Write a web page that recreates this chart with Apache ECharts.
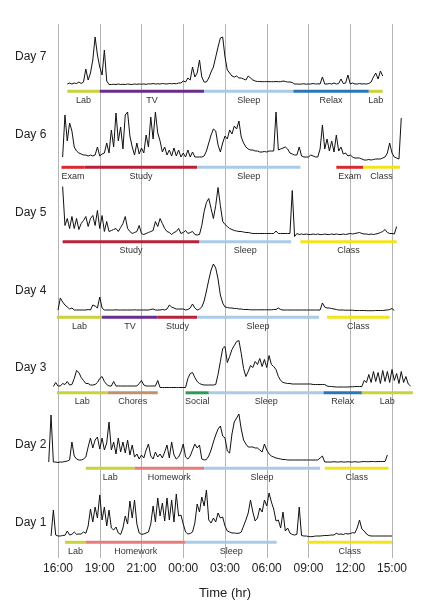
<!DOCTYPE html>
<html><head><meta charset="utf-8">
<script src="https://cdn.jsdelivr.net/npm/echarts@6/dist/echarts.min.js"></script>
<style>html,body{margin:0;padding:0;background:#fff}#c{width:434px;height:614px}</style>
</head><body><div id="c"></div>
<script>
// ---------------- DATA ----------------
const timeLabels = ['16:00','19:00','21:00','00:00','03:00','06:00','09:00','12:00','15:00'];
const SAMPLE_MIN = 10; // minutes between samples
const dayNames = ['Day 7','Day 6','Day 5','Day 4','Day 3','Day 2','Day 1'];

const day7Start = 40;
const day7Values = [1,2,1,2,1.5,3,1.5,3,16,5,
 12,25,48,30,18,10,35,4,0.5,0.5,
 0.7,0.5,1,0.5,0.7,0.5,1,0.7,0.5,1,
 0.7,1,0.8,1,0.7,1.2,1,1.5,1,1.2,
 1,1.5,1.2,1,1.5,1.2,1.5,1.2,2,
 2,4,3,7,5,18,8,12,25,8,
 3,3,7,13,18,28,38,47,48,28,
 15,12,9,8,9,7,7,6,5,9,
 7,5,4,3.5,3.5,3.3,3.3,3.5,3.3,3.3,
 3.3,3.5,3.3,3.3,4,3.5,3,3,2.5,1,
 1,0.8,1,1.2,0.8,1,1,1.5,1,1.2,
 1,8,1,1,1.5,1,2,1,1.5,6,
 1.5,2,10,1,2,1,1,1.5,1,1.2,
 1,1.5,3,8,12,6,14,9];

const day6Start = 20;
const day6Values = [4,46,20,38,30,14,10,8,7,6,
 6,5,6,5,6,14,5,7,8,
 18,8,31,14,48,20,34,12,46,49,
 25,14,6,18,7,13,8,26,14,44,
 22,49,28,20,9,14,6,11,5,13,
 5,11,4,8,4,11,4,9,4,4,
 4,4,5,10,18,26,32,30,16,9,
 18,25,22,31,27,35,32,40,24,18,
 14,12,11,11,10,10,9,9,9.5,9,
 10,10,10,49,11,12,13,14,12,8,
 7,6,6,14,5,4,4,4,6,5,
 4,4,12,36,12,22,10,20,9,26,
 10,14,7,8,5,6,4,3,3,3,
 2,1,1,1.5,1,1.5,2,2,2,3,
 4,8,18,8,4,3,2,43];

const day5Start = 20;
const day5Values = [49,10,17,7,19,7,17,6,12,15,
 19,9,17,20,10,25,7,20,4,14,
 4,5,6,7,4,8,12,19,7,4,
 2,3,4,10,2,1,2,3,4,5,
 14,9,17,12,7,4,3,1,3,4,
 7,2,3,5,2,3,4,1,0.5,1,
 10,24,33,37,27,17,30,48,30,14,
 11,9,7,6,5,4.5,4,4,3.5,3,
 3,2.5,2,2,2,2,2,2,2,2,
 2,2,4.5,2,2,2,2,2,2,45,
 -1,2,1,1.5,1,1.5,1,1,1.5,1,
 1.5,1,1,1.5,1,1,1.5,1,1.5,1,
 1,1.5,1,1.5,2,1.5,2,2.5,3,2,
 1.5,1.5,1,1.5,1,1.5,2,3,4,6,
 3,2,2,1.5,9];

const day4Start = 0;
const day4Values = [1,13,9,6,4,2,3,1,1,1,
 1,1,1,1.5,1,6,5,3,14,3,
 1,1,1,1,1,1.2,1,1,1,1,
 1,1,1,1.2,1,1,1,1,1,1,
 1.5,2,1,1,1,1.5,1,2,6,4,
 3,2,2,2,2,1,1.5,3,7,3,
 1,2,4,10,20,31,41,47,43,32,
 16,8,4,3.5,3,3,2.5,2.5,2,2,
 1.5,1.5,1.5,1.2,1.2,1.2,1.2,1.2,1.2,1.2,
 1.2,1.2,1.2,1.5,1.5,3,1.5,1,1,1,
 1,1,1,1,1,1,1,1,1,1,
 1,1,1,1,8,4,3,3,2.5,2,
 1.5,1,1,1,0.8,0.8,0.8,0.8,0.5,0.5,
 0.5,0.5,0.5,0.3,0.3,0.3,0.3,0.5,0.5,0.5,
 0.5,0.8,1,1.5,2.5,0.5];

const day3Start = -20;
const day3Values = [0,4,0.5,0.5,3,2,5,1.5,2,8,
 16,14,9,6,3,3,1.5,1.5,2,4,
 8,10,5,2,0.5,0.5,5,0.5,0.5,0.5,
 0.5,0.5,0.5,0.5,0.5,0.5,0.5,3,6,1.5,
 0.5,0.5,0.5,0.5,0.5,6,-1,-1,-1,-1,
 -1,-1,-1,-1,-1,-1,-1,-1,8,13,
 14,9,5,3,2,1.5,1.5,1.5,1.5,1.5,
 2,12,25,38,40,24,30,37,41,45,
 46,33,18,10,15,21,19,25,22,28,
 20,27,19,31,22,20,17,10,6,4,
 3.5,3,3,2.5,2.5,2.5,2.5,2.5,2.5,2.5,
 2.5,2.5,2,2,2,2,2,2,0.5,0,
 0,-0.3,-0.5,-0.5,-0.5,-0.5,-0.5,-0.5,-0.3,-0.3,
 0,0,0,0,6,4,12,4,15,5,
 14,3,16,5,15,4,17,6,13,3,
 15,4,10,2.5,0.5];

const day2Start = -40;
const day2Values = [0,47,0,0,-0.5,0,0,0.5,1,2,
 20,6,3,2,2,3,5,15,24,14,
 22,25,13,24,12,19,40,12,20,8,
 24,10,20,9,22,7,17,5,8,3,
 7,4,12,18,6,3,10,5,8,4,
 10,17,4,20,7,3,5,10,18,5,
 3,6,12,18,14,17,3,2,2.5,6,
 12,20,27,33,36,26,24,11,9,28,
 40,44,48,33,22,18,15,15,15,14,
 14,12,10,18,12,8,6,5,4,3.5,
 3,2.5,2.5,2,2,2,2,2,2,2,
 2,2,2,2,2,2,2,4,6,0,
 0,0,0,0.3,0,0,0.3,0,0,0.3,
 0,0,0.3,0,0,0.3,0.5,0.3,0.3,0.5,
 0.5,0.3,0.5,0.5,0.5,0.5,7];

const day1Start = -30;
const day1Values = [0,26,1,0,0,0.5,0.7,5,1,1.7,
 4,1.7,2,2,4,2.7,10,
 27,14,29,18,41,16,29,10,26,8,6,9,3,
 1.5,8,20,12,35,18,36,12,3,1.7,
 2,3,4,12,30,14,38,20,33,15,
 38,16,36,14,42,20,21,12,4,2,
 2.5,4,13,32,24,39,30,46,16,
 13,18,14,23,18,19,10,5,4,3,3,
 2.7,2.7,4,10,16,23,36,24,15,
 18,28,24,36,30,43,34,27,15,16,8,
 24,5,8,3,1.5,1,1.7,29,0.5,0,
 0,-0.5,-0.7,-0.5,0,0,0,0.3,0.5,0.5,
 0.7,1,1,2.7,1.7,2,1.5,2.5,2,2.5,
 3.3,3,8,16,7,5,2,0.5,0,0,
 0,0,0,0,0,0,0,0];

// activities: [label, start minute, end minute] (minutes after 16:00 gridline, 180 per gridline)
const day7Activities = [['Lab',40,180],['TV',180,630],['Sleep',630,1015],['Relax',1015,1340],['Lab',1340,1400]];
const day6Activities = [['Exam',15,115],['Study',115,600],['Sleep',600,1045],['Exam',1200,1315],['Class',1315,1475]];
const day5Activities = [['Study',20,610],['Sleep',610,1005],['Class',1045,1460]];
const day4Activities = [['Lab',-5,190],['TV',190,430],['Study',430,600],['Sleep',600,1125],['Class',1160,1430]];
const day3Activities = [['Lab',-5,215],['Chores',215,430],['Social',550,650],['Sleep',650,1145],['Relax',1145,1310],['Lab',1310,1530]];
const day2Activities = [['Lab',120,330],['Homework',330,630],['Sleep',630,1130],['Class',1150,1425]];
const day1Activities = [['Lab',30,120],['Homework',120,550],['Sleep',550,943],['Class',1075,1440]];

// ---------------- STYLE / LAYOUT ----------------
const activityColors = {
  Lab:'#c9d23c', Class:'#f3e31c', TV:'#6b2d8c', Sleep:'#a9cbe8', Relax:'#2b76b5',
  Study:'#b9213a', Exam:'#d9282e', Homework:'#e77b7c', Chores:'#c29069', Social:'#2e9a52'
};
const FONT = '"Liberation Sans", Arial, sans-serif';
const X0 = 58, PX_PER_MIN = 41.75/180;
const XMIN = -40, XMAX = 1560;
const baselines = [85,161,235.5,311,386.5,462,536];
const dayLabelY = [57,135,212.7,290.7,367.7,445,523];
const BAR_Y = -6.3, LABEL_Y = -15.5;

const days = [
  {start:day7Start, values:day7Values, acts:day7Activities},
  {start:day6Start, values:day6Values, acts:day6Activities},
  {start:day5Start, values:day5Values, acts:day5Activities},
  {start:day4Start, values:day4Values, acts:day4Activities},
  {start:day3Start, values:day3Values, acts:day3Activities},
  {start:day2Start, values:day2Values, acts:day2Activities},
  {start:day1Start, values:day1Values, acts:day1Activities}
];

const GL = X0 + XMIN*PX_PER_MIN, GW = (XMAX-XMIN)*PX_PER_MIN;

const grids = [{left:X0, width:1440*PX_PER_MIN, top:24, height:534}];
const xAxes = [{
  gridIndex:0, type:'value', min:0, max:1440, interval:180,
  axisLine:{show:false}, axisTick:{show:false},
  splitLine:{show:true, lineStyle:{color:'#b4b4b4', width:1}},
  axisLabel:{formatter:v=>timeLabels[Math.round(v/180)], color:'#222', fontSize:12, margin:5, fontFamily:FONT},
  name:'Time (hr)', nameLocation:'middle', nameGap:29,
  nameTextStyle:{fontSize:13, color:'#222', fontFamily:FONT}
}];
const yAxes = [{gridIndex:0, type:'value', min:0, max:1, show:false}];
const series = [];
const graphics = [];

days.forEach((d,i)=>{
  const gi = i+1;
  grids.push({left:GL, width:GW, top:baselines[i]-50, height:70});
  xAxes.push({gridIndex:gi, type:'value', min:XMIN, max:XMAX, show:false});
  yAxes.push({gridIndex:gi, type:'value', min:-20, max:50, show:false});
  series.push({
    type:'line', xAxisIndex:gi, yAxisIndex:gi, showSymbol:false, silent:true,
    data:d.values.map((v,k)=>[d.start + k*SAMPLE_MIN, v]),
    lineStyle:{color:'#111', width:1}, z:3
  });
  const acts = d.acts;
  series.push({
    type:'custom', xAxisIndex:gi, yAxisIndex:gi, silent:true,
    data:acts.map(a=>[a[1],a[2]]),
    renderItem:(params, api)=>{
      const a = acts[params.dataIndex];
      const s = api.coord([api.value(0), BAR_Y]);
      const e = api.coord([api.value(1), BAR_Y]);
      const l = api.coord([(api.value(0)+api.value(1))/2, LABEL_Y]);
      return {type:'group', children:[
        {type:'rect', shape:{x:s[0], y:s[1]-1.5, width:e[0]-s[0], height:3}, style:{fill:activityColors[a[0]]}},
        {type:'text', style:{text:a[0], x:l[0], y:l[1], align:'center', verticalAlign:'middle',
          textAlign:'center', textVerticalAlign:'middle', fill:'#333', font:'9px '+FONT}}
      ]};
    }
  });
  graphics.push({type:'text', x:15, y:dayLabelY[i], style:{text:dayNames[i], fill:'#222', font:'12px '+FONT, verticalAlign:'middle', textVerticalAlign:'middle'}});
});

const chart = echarts.init(document.getElementById('c'), null, {renderer:'canvas'});
chart.setOption({
  animation:false, backgroundColor:'#fff',
  grid:grids, xAxis:xAxes, yAxis:yAxes, series:series, graphic:graphics
});
</script></body></html>
